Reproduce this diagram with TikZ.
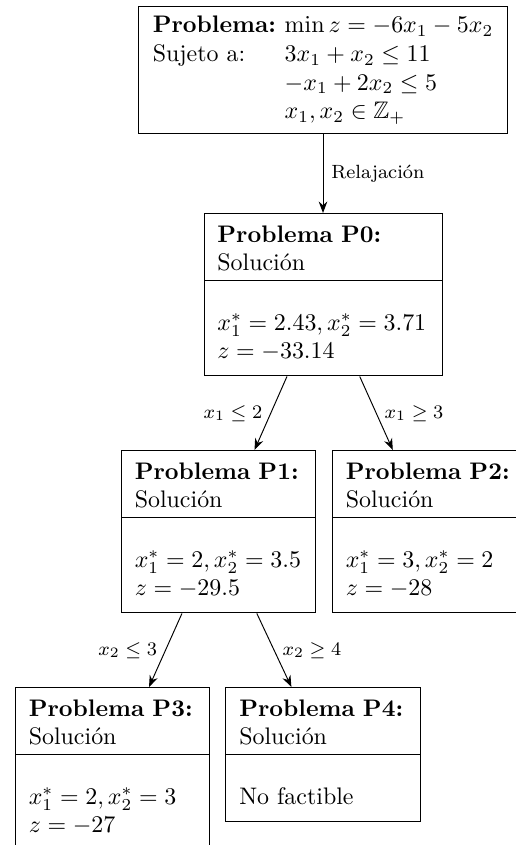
\documentclass[tikz,border=0pt]{standalone}
\usepackage{amssymb}
\usetikzlibrary{shapes.multipart,arrows.meta}
\newcommand\mytopstrut{\rule{0pt}{8.5pt}}
\newcommand\myendA{\rule[-0.6pt]{0pt}{0pt}}
\newcommand\mylowstrut{\rule{0pt}{5.1pt}}
\newcommand\myendB{\rule[-3.6pt]{0pt}{0pt}}
\newcommand\mm[1]{\mbox{$#1$}}
\begin{document}
\begin{tikzpicture}[x=0.418pt,y=-0.418pt,
  probbox/.style={draw, rectangle split, rectangle split parts=2, align=left,
    text width=70pt, inner xsep=5.6pt, inner ysep=3.33pt, anchor=north},
  wide/.style={text width=88.3pt},
  edgelabel/.style={font=\footnotesize, midway},
  arr/.style={-{Stealth}}
]
\useasboundingbox (0,0) rectangle (516,845);
\clip (0,0) rectangle (516,845);

\node[draw, anchor=north, inner xsep=5.8pt, inner ysep=2.6pt] (root) at (323,6)
  {\begin{tabular}{@{}l@{}l@{}}
   \textbf{Problema:}\hspace{3.6pt} & $\min z=-6x_1-5x_2$\\
   Sujeto a: & $3x_1+x_2\le 11$\\
   & $-x_1+2x_2\le 5$\\
   & $x_1,x_2\in\mathbb{Z}_+$
   \end{tabular}};

\node[probbox, wide] (P0) at (323,213)
  {\mytopstrut\textbf{Problema P0:}\\ Solución\myendA
   \nodepart{two}\mylowstrut\\ \mm{x_1^*=2.43, x_2^*=3.71}\\ \mm{z=-33.14}\myendB};

\node[probbox] (P1) at (218.5,450)
  {\mytopstrut\textbf{Problema P1:}\\ Solución\myendA
   \nodepart{two}\mylowstrut\\ \mm{x_1^*=2, x_2^*=3.5}\\ \mm{z=-29.5}\myendB};

\node[probbox] (P2) at (429.5,450)
  {\mytopstrut\textbf{Problema P2:}\\ Solución\myendA
   \nodepart{two}\mylowstrut\\ \mm{x_1^*=3, x_2^*=2}\\ \mm{z=-28}\myendB};

\node[probbox] (P3) at (112.5,687)
  {\mytopstrut\textbf{Problema P3:}\\ Solución\myendA
   \nodepart{two}\mylowstrut\\ \mm{x_1^*=2, x_2^*=3}\\ \mm{z=-27}\myendB};

\node[probbox] (P4) at (323,687)
  {\mytopstrut\textbf{Problema P4:}\\ Solución\myendA
   \nodepart{two}\mylowstrut\\ No factible\myendB};

\draw[arr] (root) -- node[edgelabel, right] {Relajación} (P0);
\draw[arr] (P0) -- node[edgelabel, left] {$x_1\le 2$} (P1);
\draw[arr] (P0) -- node[edgelabel, right] {$x_1\ge 3$} (P2);
\draw[arr] (P1) -- node[edgelabel, left] {$x_2\le 3$} (P3);
\draw[arr] (P1) -- node[edgelabel, right] {$x_2\ge 4$} (P4);
\end{tikzpicture}
\end{document}
